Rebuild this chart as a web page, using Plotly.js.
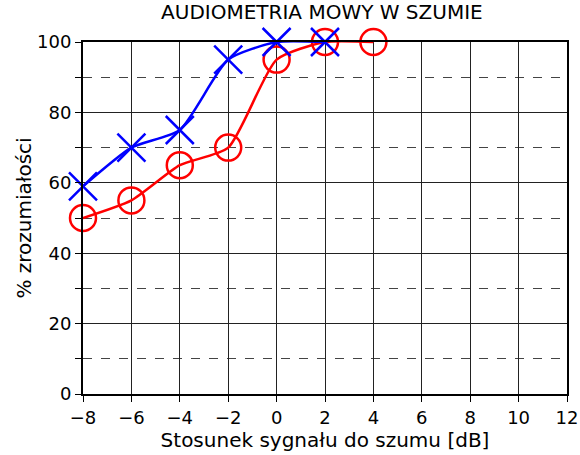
<!DOCTYPE html>
<html><head><meta charset="utf-8">
<script src="https://cdn.plot.ly/plotly-3.0.1.min.js"></script>
<style>body{margin:0}#c{width:580px;height:455px}</style>
</head><body><div id="c"></div>
<script>
const blueX = [-8, -6, -4, -2, 0, 2];
const blueY = [59, 70, 75, 95, 100, 100];
const redX = [-8, -6, -4, -2, 0, 2, 4];
const redY = [50, 55, 65, 70, 95, 100, 100];
const xTicks = [-8, -6, -4, -2, 0, 2, 4, 6, 8, 10, 12];
const yTicks = [0, 20, 40, 60, 80, 100];

const font = "DejaVu Sans, sans-serif";
const data = [
  {x: redX, y: redY, type: 'scatter', mode: 'lines+markers',
   line: {color: '#ff0000', width: 2.5, shape: 'spline', smoothing: 0.6},
   marker: {symbol: 'circle-open', size: 26, color: '#ff0000', line: {width: 2.5, color: '#ff0000'}},
   cliponaxis: false, showlegend: false},
  {x: blueX, y: blueY, type: 'scatter', mode: 'lines+markers',
   line: {color: '#0000ff', width: 2.5, shape: 'spline', smoothing: 0.6},
   marker: {symbol: 'x-thin-open', size: 28, color: '#0000ff', line: {width: 2.5, color: '#0000ff'}},
   cliponaxis: false, showlegend: false}
];
const layout = {
  width: 580, height: 455,
  margin: {l: 83, r: 13, t: 42, b: 61},
  paper_bgcolor: '#fff', plot_bgcolor: '#fff',
  font: {family: font, color: '#000', size: 18},
  title: {text: 'AUDIOMETRIA MOWY W SZUMIE', x: 0.555, xanchor: 'center', y: 0.99, yanchor: 'top', font: {size: 20, family: font}},
  xaxis: {range: [-8, 12], tickvals: xTicks, ticks: 'outside', ticklen: 6, tickwidth: 1, tickcolor: '#000',
    showline: true, linecolor: '#000', linewidth: 2, mirror: true,
    showgrid: true, gridcolor: '#222', gridwidth: 1, zeroline: false,
    tickfont: {size: 18}, title: {text: 'Stosunek sygnału do szumu [dB]', font: {size: 20}, standoff: 6}},
  yaxis: {range: [0, 100], tickvals: yTicks, ticks: 'outside', ticklen: 6, tickwidth: 1, tickcolor: '#000',
    showline: true, linecolor: '#000', linewidth: 2, mirror: true,
    showgrid: true, gridcolor: '#222', gridwidth: 1, zeroline: false,
    minor: {dtick: 10, tick0: 0, showgrid: true, griddash: 'dash', gridcolor: '#444', gridwidth: 1, ticks: 'outside', ticklen: 6, tickcolor: '#000'},
    tickfont: {size: 18}, title: {text: '% zrozumiałości', font: {size: 20}, standoff: 0}}
};
Plotly.newPlot('c', data, layout, {displayModeBar: false, staticPlot: true});
</script></body></html>
